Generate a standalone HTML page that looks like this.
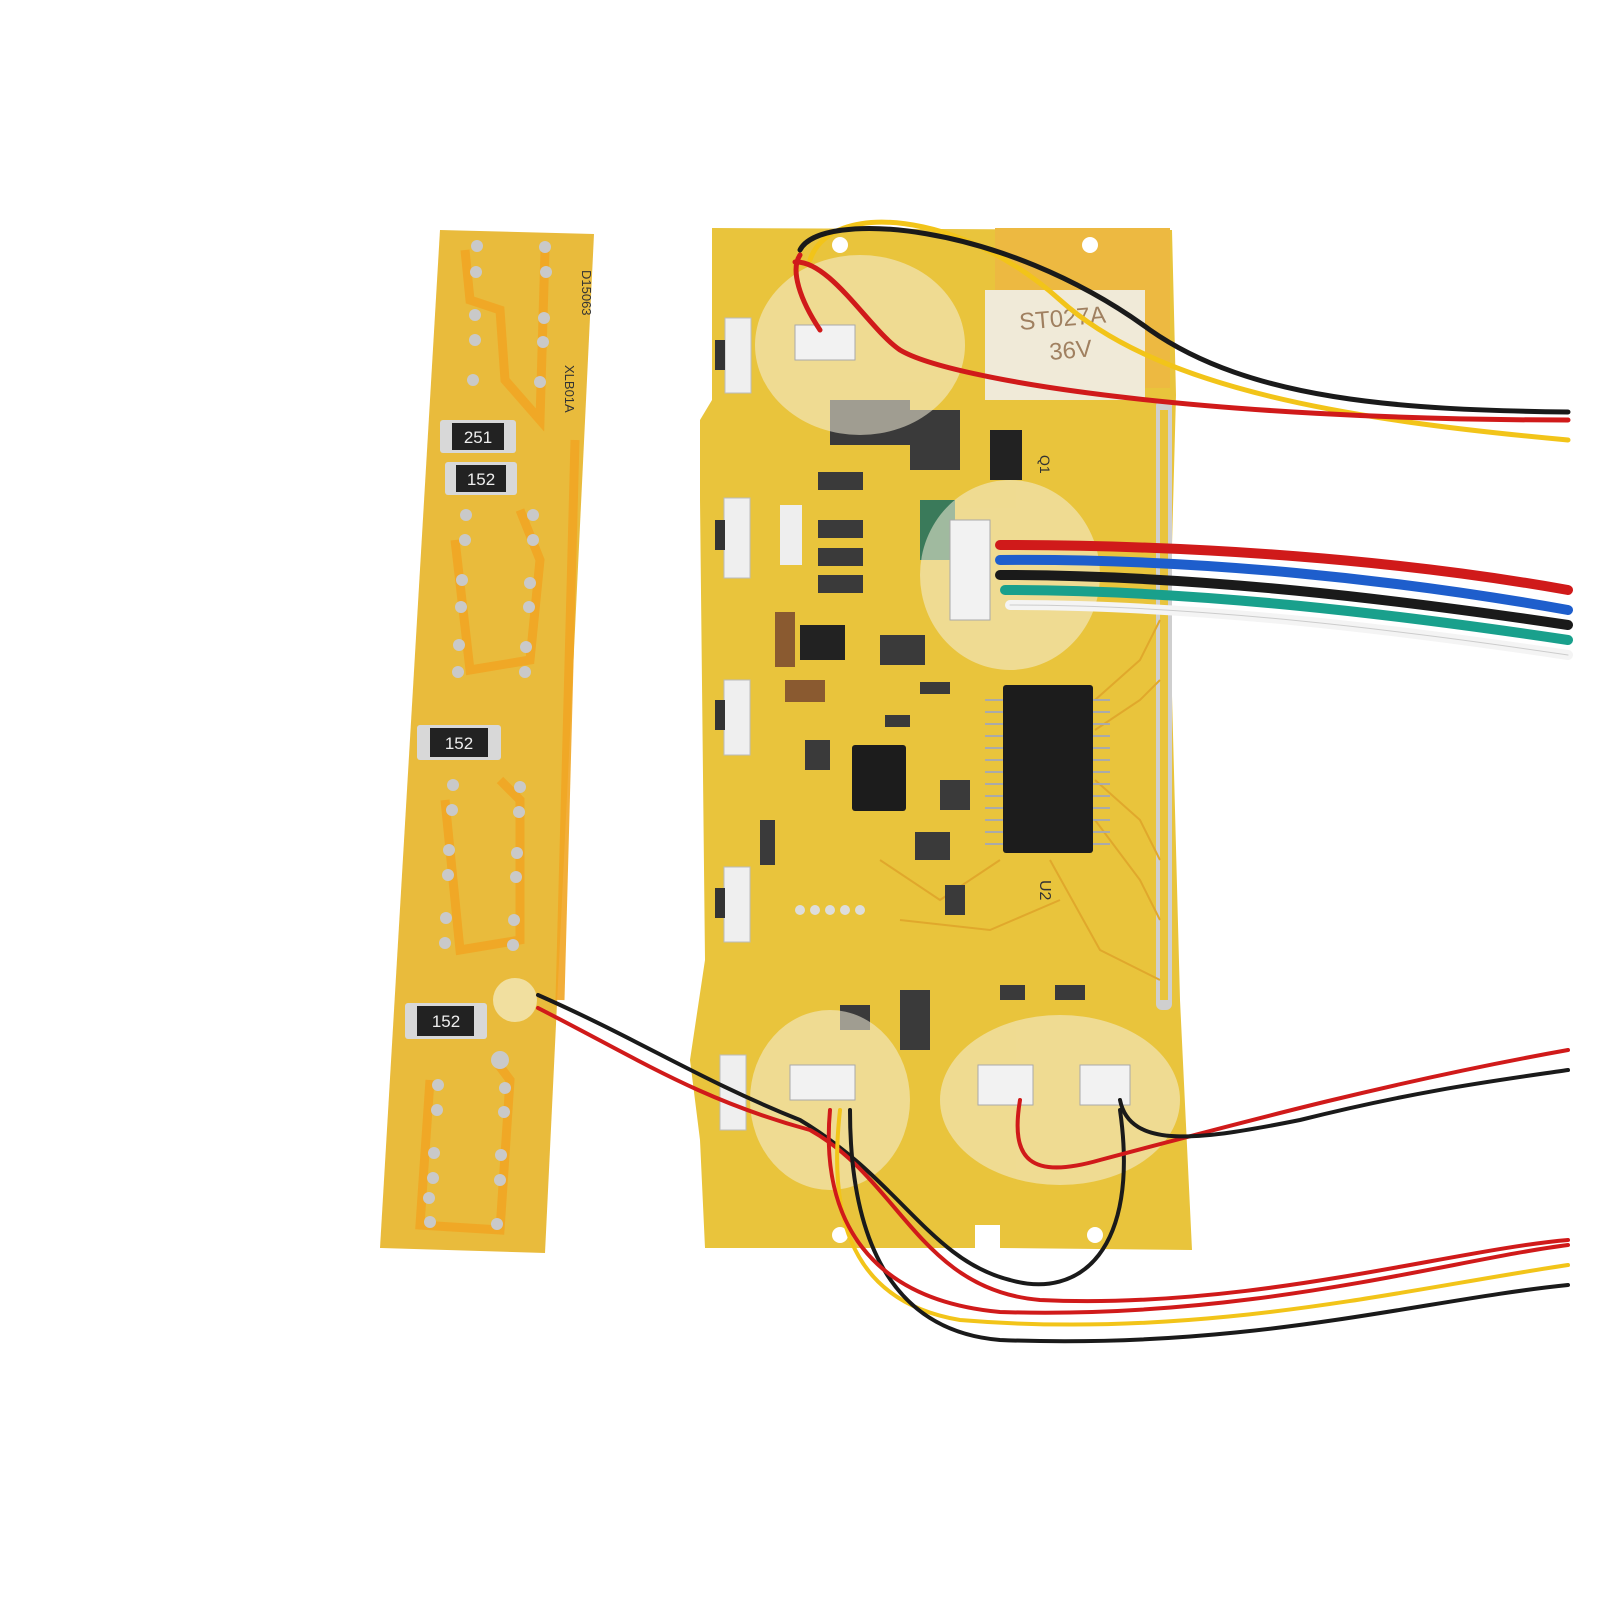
<!DOCTYPE html>
<html><head><meta charset="utf-8"><style>
html,body{margin:0;padding:0;background:#fff;}
svg{display:block;}
text{font-family:"Liberation Sans",sans-serif;}
</style></head><body>
<svg width="1600" height="1600" viewBox="0 0 1600 1600" xmlns="http://www.w3.org/2000/svg">
<rect width="1600" height="1600" fill="#ffffff"/>

<!-- LEFT BOARD -->
<polygon points="440,230 594,234 545,1253 380,1248" fill="#e9bb3c"/>
<g fill="none" stroke="#f1a624" stroke-width="9" opacity="0.9">
<path d="M465,250 L470,300 L500,310 L505,380 L540,420 L545,250"/>
<path d="M520,510 L540,560 L530,660 L470,670 L455,540"/>
<path d="M500,780 L520,800 L520,940 L460,950 L445,800"/>
<path d="M495,1060 L510,1080 L500,1230 L420,1225 L430,1080"/>
<path d="M575,440 L560,1000"/>
</g>
<g fill="#c9c9c9">
<circle cx="477" cy="246" r="6"/><circle cx="545" cy="247" r="6"/><circle cx="476" cy="272" r="6"/><circle cx="546" cy="272" r="6"/>
<circle cx="475" cy="315" r="6"/><circle cx="544" cy="318" r="6"/><circle cx="475" cy="340" r="6"/><circle cx="543" cy="342" r="6"/>
<circle cx="473" cy="380" r="6"/><circle cx="540" cy="382" r="6"/>
<circle cx="466" cy="515" r="6"/><circle cx="533" cy="515" r="6"/><circle cx="465" cy="540" r="6"/><circle cx="533" cy="540" r="6"/>
<circle cx="462" cy="580" r="6"/><circle cx="530" cy="583" r="6"/><circle cx="461" cy="607" r="6"/><circle cx="529" cy="607" r="6"/>
<circle cx="459" cy="645" r="6"/><circle cx="526" cy="647" r="6"/><circle cx="458" cy="672" r="6"/><circle cx="525" cy="672" r="6"/>
<circle cx="453" cy="785" r="6"/><circle cx="520" cy="787" r="6"/><circle cx="452" cy="810" r="6"/><circle cx="519" cy="812" r="6"/>
<circle cx="449" cy="850" r="6"/><circle cx="517" cy="853" r="6"/><circle cx="448" cy="875" r="6"/><circle cx="516" cy="877" r="6"/>
<circle cx="446" cy="918" r="6"/><circle cx="514" cy="920" r="6"/><circle cx="445" cy="943" r="6"/><circle cx="513" cy="945" r="6"/>
<circle cx="438" cy="1085" r="6"/><circle cx="505" cy="1088" r="6"/><circle cx="437" cy="1110" r="6"/><circle cx="504" cy="1112" r="6"/>
<circle cx="434" cy="1153" r="6"/><circle cx="501" cy="1155" r="6"/><circle cx="433" cy="1178" r="6"/><circle cx="500" cy="1180" r="6"/>
<circle cx="430" cy="1222" r="6"/><circle cx="497" cy="1224" r="6"/><circle cx="429" cy="1198" r="6"/>
<circle cx="500" cy="1060" r="9"/>
</g>
<!-- resistors -->
<g>
<rect x="440" y="420" width="76" height="33" rx="3" fill="#d8d8d8"/><rect x="452" y="423" width="52" height="27" fill="#222"/>
<text x="478" y="443" fill="#eee" font-size="17" text-anchor="middle">251</text>
<rect x="445" y="462" width="72" height="33" rx="3" fill="#d8d8d8"/><rect x="456" y="465" width="50" height="27" fill="#222"/>
<text x="481" y="485" fill="#eee" font-size="17" text-anchor="middle">152</text>
<rect x="417" y="725" width="84" height="35" rx="3" fill="#d8d8d8"/><rect x="430" y="728" width="58" height="29" fill="#222"/>
<text x="459" y="749" fill="#eee" font-size="17" text-anchor="middle">152</text>
<rect x="405" y="1003" width="82" height="36" rx="3" fill="#d8d8d8"/><rect x="417" y="1006" width="57" height="30" fill="#222"/>
<text x="446" y="1027" fill="#eee" font-size="17" text-anchor="middle">152</text>
</g>
<text x="0" y="0" font-size="13" fill="#333" transform="translate(582,270) rotate(90)">D15063</text>
<text x="0" y="0" font-size="13" fill="#333" transform="translate(565,365) rotate(90)">XLB01A</text>
<circle cx="515" cy="1000" r="22" fill="#f2e8b8" opacity="0.8"/>

<!-- RIGHT BOARD -->
<polygon points="712,228 1172,230 1176,395 1170,620 1180,1000 1192,1250 1000,1248 1000,1225 975,1225 975,1248 705,1248 700,1140 690,1060 705,960 700,500 700,420 712,400" fill="#e9c43c"/>
<rect x="995" y="228" width="175" height="160" fill="#edb941"/>
<rect x="985" y="290" width="160" height="110" fill="#f0ead8"/>
<text x="1020" y="330" font-family="Liberation Serif" font-size="24" fill="#a08060" transform="rotate(-5 1020 330)">ST027A</text>
<text x="1050" y="360" font-family="Liberation Serif" font-size="24" fill="#a08060" transform="rotate(-5 1050 360)">36V</text>
<!-- pins right edge -->
<g fill="#cfcfcf">
<rect x="1156" y="400" width="16" height="610" rx="6"/>
</g>
<g fill="#e9c43c">
<rect x="1160" y="410" width="8" height="590"/>
</g>
<!-- traces -->
<g fill="none" stroke="#e0a82c" stroke-width="2">
<path d="M1095,700 L1140,660 L1160,620"/><path d="M1095,730 L1140,700 L1160,680"/>
<path d="M1095,780 L1140,820 L1160,860"/><path d="M1095,820 L1140,880 L1160,920"/>
<path d="M1050,860 L1100,950 L1160,980"/><path d="M900,920 L990,930 L1060,900"/>
<path d="M880,860 L940,900 L1000,860"/>
</g>
<!-- connectors left side -->
<g fill="#efefef" stroke="#bbb">
<rect x="725" y="318" width="26" height="75"/><rect x="724" y="498" width="26" height="80"/>
<rect x="724" y="680" width="26" height="75"/><rect x="724" y="867" width="26" height="75"/>
<rect x="720" y="1055" width="26" height="75"/>
</g>
<g fill="#333"><rect x="715" y="340" width="10" height="30"/><rect x="715" y="520" width="10" height="30"/><rect x="715" y="700" width="10" height="30"/><rect x="715" y="888" width="10" height="30"/></g>
<!-- holes -->
<g fill="#fff"><circle cx="840" cy="245" r="8"/><circle cx="1090" cy="245" r="8"/><circle cx="840" cy="1235" r="8"/><circle cx="1095" cy="1235" r="8"/></g>
<!-- chips -->
<rect x="1003" y="685" width="90" height="168" rx="3" fill="#1c1c1c"/>
<g stroke="#aaa" stroke-width="2">
<path d="M985,700 H1003 M985,712 H1003 M985,724 H1003 M985,736 H1003 M985,748 H1003 M985,760 H1003 M985,772 H1003 M985,784 H1003 M985,796 H1003 M985,808 H1003 M985,820 H1003 M985,832 H1003 M985,844 H1003"/>
<path d="M1093,700 H1110 M1093,712 H1110 M1093,724 H1110 M1093,736 H1110 M1093,748 H1110 M1093,760 H1110 M1093,772 H1110 M1093,784 H1110 M1093,796 H1110 M1093,808 H1110 M1093,820 H1110 M1093,832 H1110 M1093,844 H1110"/>
</g>
<rect x="852" y="745" width="54" height="66" rx="3" fill="#1c1c1c"/>
<rect x="800" y="625" width="45" height="35" fill="#222"/>
<rect x="990" y="430" width="32" height="50" fill="#222"/>
<rect x="785" y="680" width="40" height="22" fill="#8a5a30"/>
<rect x="775" y="612" width="20" height="55" fill="#8a5a30"/>
<rect x="920" y="500" width="35" height="60" fill="#3a7a5a"/>
<!-- small components -->
<g fill="#3a3a3a">
<rect x="818" y="472" width="45" height="18"/><rect x="818" y="520" width="45" height="18"/>
<rect x="818" y="548" width="45" height="18"/><rect x="818" y="575" width="45" height="18"/>
<rect x="880" y="635" width="45" height="30"/><rect x="920" y="682" width="30" height="12"/>
<rect x="885" y="715" width="25" height="12"/><rect x="805" y="740" width="25" height="30"/>
<rect x="940" y="780" width="30" height="30"/><rect x="915" y="832" width="35" height="28"/>
<rect x="760" y="820" width="15" height="45"/><rect x="945" y="885" width="20" height="30"/>
<rect x="780" y="505" width="22" height="60" fill="#eee"/>
<rect x="830" y="400" width="80" height="45"/><rect x="910" y="410" width="50" height="60"/>
<rect x="1000" y="985" width="25" height="15"/><rect x="1055" y="985" width="30" height="15"/>
<rect x="900" y="990" width="30" height="60"/><rect x="840" y="1005" width="30" height="25"/>
</g>
<g fill="#ddd"><circle cx="800" cy="910" r="5"/><circle cx="815" cy="910" r="5"/><circle cx="830" cy="910" r="5"/><circle cx="845" cy="910" r="5"/><circle cx="860" cy="910" r="5"/></g>
<text x="1040" y="880" font-size="16" fill="#333" transform="rotate(90 1040 880)">U2</text>
<text x="1040" y="455" font-size="14" fill="#333" transform="rotate(90 1040 455)">Q1</text>
<!-- glue blobs -->
<g fill="#f4efd8" opacity="0.55">
<ellipse cx="860" cy="345" rx="105" ry="90"/>
<ellipse cx="1010" cy="575" rx="90" ry="95"/>
<ellipse cx="830" cy="1100" rx="80" ry="90"/>
<ellipse cx="1060" cy="1100" rx="120" ry="85"/>
</g>
<!-- white connectors -->
<g fill="#f2f2f2" stroke="#aaa">
<rect x="795" y="325" width="60" height="35"/><rect x="790" y="1065" width="65" height="35"/>
<rect x="978" y="1065" width="55" height="40"/><rect x="1080" y="1065" width="50" height="40"/>
<rect x="950" y="520" width="40" height="100"/>
</g>

<!-- WIRES -->
<g fill="none" stroke-linecap="round">
<path d="M810,260 C830,200 960,210 1060,300 C1160,390 1350,420 1568,440" stroke="#f2c419" stroke-width="5"/>
<path d="M800,250 C820,210 1000,220 1150,330 C1250,400 1400,410 1568,412" stroke="#1a1a1a" stroke-width="5"/>
<path d="M795,262 C830,260 870,330 900,350 C950,380 1200,420 1568,420" stroke="#d01a1a" stroke-width="5"/>
<path d="M820,330 C800,300 790,270 800,255" stroke="#d01a1a" stroke-width="5"/>

<path d="M1000,545 C1200,545 1400,560 1568,590" stroke="#d01a1a" stroke-width="10"/>
<path d="M1000,560 C1200,558 1400,580 1568,610" stroke="#1e5ecc" stroke-width="10"/>
<path d="M1000,575 C1200,575 1400,600 1568,625" stroke="#1a1a1a" stroke-width="10"/>
<path d="M1005,590 C1200,590 1400,615 1568,640" stroke="#19a08c" stroke-width="10"/>
<path d="M1010,605 C1200,605 1400,630 1568,655" stroke="#f4f4f4" stroke-width="10"/>
<path d="M1010,605 C1200,605 1400,630 1568,655" stroke="#ccc" stroke-width="1"/>

<path d="M538,995 C640,1040 700,1080 800,1120 C900,1180 930,1260 1010,1280 C1080,1300 1140,1250 1120,1110" stroke="#1a1a1a" stroke-width="4"/>
<path d="M538,1008 C640,1060 700,1100 810,1130 C900,1180 920,1290 1040,1300 C1250,1310 1450,1250 1568,1240" stroke="#d01a1a" stroke-width="4"/>
<path d="M840,1110 C830,1200 840,1300 960,1320 C1200,1340 1400,1290 1568,1265" stroke="#f2c419" stroke-width="4"/>
<path d="M850,1110 C850,1220 880,1330 1000,1340 C1250,1350 1420,1300 1568,1285" stroke="#1a1a1a" stroke-width="4"/>
<path d="M830,1110 C820,1220 870,1300 1000,1312 C1250,1320 1450,1260 1568,1245" stroke="#d01a1a" stroke-width="4"/>
<path d="M1020,1100 C1010,1160 1030,1180 1100,1160 C1250,1120 1400,1080 1568,1050" stroke="#d01a1a" stroke-width="4"/>
<path d="M1120,1100 C1130,1150 1200,1140 1300,1120 C1420,1090 1500,1080 1568,1070" stroke="#1a1a1a" stroke-width="4"/>
</g>
</svg>
</body></html>
